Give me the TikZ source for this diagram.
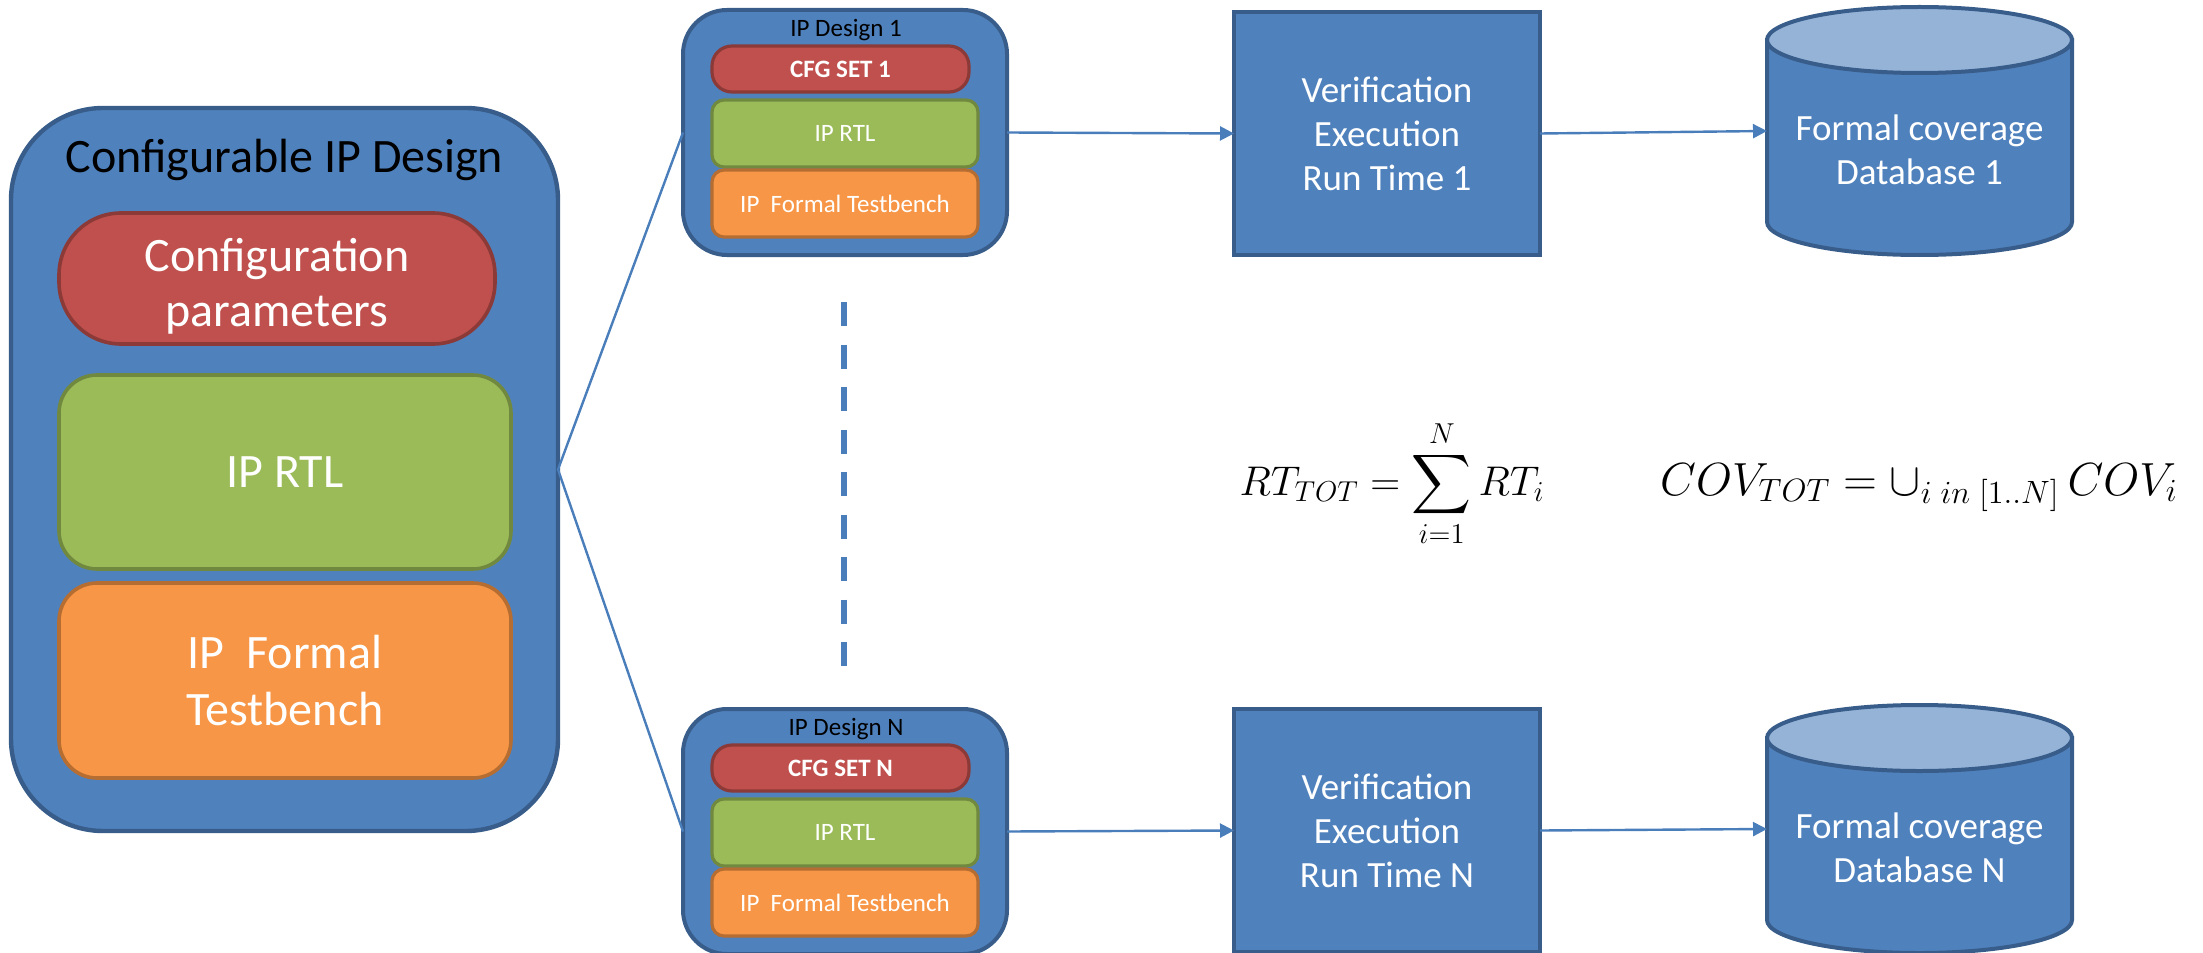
\documentclass[tikz,border=0pt]{standalone}
\usepackage{amsmath}
\usepackage{graphicx}
\usepackage[no-math]{fontspec}
\setmainfont{Carlito}
\usetikzlibrary{arrows.meta}
\definecolor{blueFill}{HTML}{4F81BD}
\definecolor{blueLine}{HTML}{385D8A}
\definecolor{redFill}{HTML}{C0504D}
\definecolor{redLine}{HTML}{8C3A38}
\definecolor{greenFill}{HTML}{9BBB59}
\definecolor{greenLine}{HTML}{71893F}
\definecolor{orangeFill}{HTML}{F79646}
\definecolor{orangeLine}{HTML}{B66D31}
\definecolor{cylTop}{HTML}{95B3D7}
\definecolor{linkBlue}{HTML}{4A7EBB}
\begin{document}
\begin{tikzpicture}[x=0.5pt,y=-0.5pt,
  bluebox/.style={draw=blueLine, fill=blueFill, line width=2.2pt, inner sep=0pt, outer sep=0pt},
  redbox/.style={draw=redLine, fill=redFill, line width=1.8pt, text=white, align=center, inner sep=0pt, outer sep=0pt},
  greenbox/.style={draw=greenLine, fill=greenFill, line width=1.8pt, text=white, align=center, inner sep=0pt, outer sep=0pt},
  orangebox/.style={draw=orangeLine, fill=orangeFill, line width=1.8pt, text=white, align=center, inner sep=0pt, outer sep=0pt},
  bigtext/.style={font=\fontsize{24}{28}\selectfont},
  smalltext/.style={font=\fontsize{12.5}{15}\selectfont},
  midtext/.style={font=\fontsize{18.5}{22}\selectfont, text=white, align=center},
  cylbody/.style={draw=blueLine, fill=blueFill, line width=2pt},
  cyltop/.style={draw=blueLine, fill=cylTop, line width=2pt},
  link/.style={draw=linkBlue, line width=1.2pt},
  arr/.style={link, -{Triangle[length=7pt,width=7pt]}},
  dashblue/.style={draw=linkBlue, line width=3pt, dash pattern=on 12pt off 9.25pt},
  eqtext/.style={font=\fontsize{20.74}{24}\selectfont, anchor=base}
]
\useasboundingbox (0,0) rectangle (2203,952);

% Left: configurable IP design
\node[bluebox, rounded corners=46pt, minimum width=273.5pt, minimum height=361.5pt] (big) at (284.5,469.5) {};
\node[font=\fontsize{24}{29}\selectfont, anchor=base] (bigtitle) at (284.5,173) {Configurable IP Design};
\node[redbox, rounded corners=31pt, minimum width=218pt, minimum height=65.5pt] (cfgpar) at (277,278.5) {};
\node[text=white, align=center, font=\fontsize{24}{27.5}\selectfont] (cfgpart) at (277,286) {Configuration\\parameters};
\node[greenbox, bigtext, rounded corners=19pt, minimum width=226pt, minimum height=97pt] (iprtl) at (285,472) {IP RTL};
\node[orangebox, rounded corners=19pt, minimum width=226pt, minimum height=97.5pt, font=\fontsize{24}{28.5}\selectfont] (iptb) at (285,680.5) {IP~~Formal\\Testbench};

% IP Design 1
\node[bluebox, line width=2pt, rounded corners=22pt, minimum width=162pt, minimum height=122.5pt] (d1) at (845,132.5) {};
\node[smalltext, anchor=base] (d1t) at (846,36.5) {IP Design 1};
\node[redbox, line width=1.6pt, rounded corners=10pt, minimum width=128.5pt, minimum height=23pt, font=\bfseries\fontsize{12.5}{15}\selectfont] (cfg1) at (840.5,69) {CFG SET 1};
\node[greenbox, smalltext, line width=1.6pt, rounded corners=6pt, minimum width=133pt, minimum height=33.5pt] (rtl1) at (845,133.5) {IP RTL};
\node[orangebox, smalltext, line width=1.6pt, rounded corners=6pt, minimum width=133pt, minimum height=33.5pt] (tb1) at (845,203.5) {IP~~Formal Testbench};

% IP Design N
\node[bluebox, line width=2pt, rounded corners=22pt, minimum width=162pt, minimum height=122.5pt] (dN) at (845,831.5) {};
\node[smalltext, anchor=base] (dNt) at (846,735.5) {IP Design N};
\node[redbox, line width=1.6pt, rounded corners=10pt, minimum width=128.5pt, minimum height=23pt, font=\bfseries\fontsize{12.5}{15}\selectfont] (cfgN) at (840.5,768) {CFG SET N};
\node[greenbox, smalltext, line width=1.6pt, rounded corners=6pt, minimum width=133pt, minimum height=33.5pt] (rtlN) at (845,832.5) {IP RTL};
\node[orangebox, smalltext, line width=1.6pt, rounded corners=6pt, minimum width=133pt, minimum height=33.5pt] (tbN) at (845,902.5) {IP~~Formal Testbench};

% Verification boxes
\node[bluebox, midtext, line width=2pt, minimum width=153pt, minimum height=121.5pt] (v1) at (1387,133.5) {Verification\\Execution\\Run Time 1};
\node[bluebox, midtext, line width=2pt, minimum width=153pt, minimum height=121.5pt] (vN) at (1387,830.5) {Verification\\Execution\\Run Time N};

% Cylinder 1
\path[cylbody] (1767,40) -- (1767,222) arc[start angle=180, end angle=360, x radius=76.25pt, y radius=16.5pt] -- (2072,40) -- cycle;
\path[cyltop] (1919.5,40) ellipse[x radius=76.25pt, y radius=16.5pt];
\node[minimum width=152.5pt, minimum height=124pt, inner sep=0pt, outer sep=0pt] (db1) at (1919.5,131) {};
\node[midtext] (db1t) at (1919.5,150) {Formal coverage\\Database 1};

% Cylinder N
\path[cylbody] (1767,738) -- (1767,920) arc[start angle=180, end angle=360, x radius=76.25pt, y radius=16.5pt] -- (2072,738) -- cycle;
\path[cyltop] (1919.5,738) ellipse[x radius=76.25pt, y radius=16.5pt];
\node[minimum width=152.5pt, minimum height=124pt, inner sep=0pt, outer sep=0pt] (dbN) at (1919.5,829) {};
\node[midtext] (dbNt) at (1919.5,847.5) {Formal coverage\\Database N};

% Connectors
\draw[link] (d1.west) -- (big.east) -- (dN.west);
\draw[arr] (d1.east) -- (v1.west);
\draw[arr] (dN.east) -- (vN.west);
\draw[arr] (v1.east) -- (db1.west);
\draw[arr] (vN.east) -- (dbN.west);

% Dashed separator
\coordinate (dtop) at (844,302);
\coordinate (dbot) at (844,666);
\draw[dashblue] (dtop) -- (dbot);

% Equations
\node[eqtext] (eqrt) at (1392,495) {$\displaystyle RT_{TOT}=\sum_{i=1}^{N}RT_i$};
\node[eqtext] (eqcov) at (1919,495) {\scalebox{1.12}{$COV_{TOT}=\cup_{i\;in\;[1..N]}\,COV_i$}};
\end{tikzpicture}
\end{document}
